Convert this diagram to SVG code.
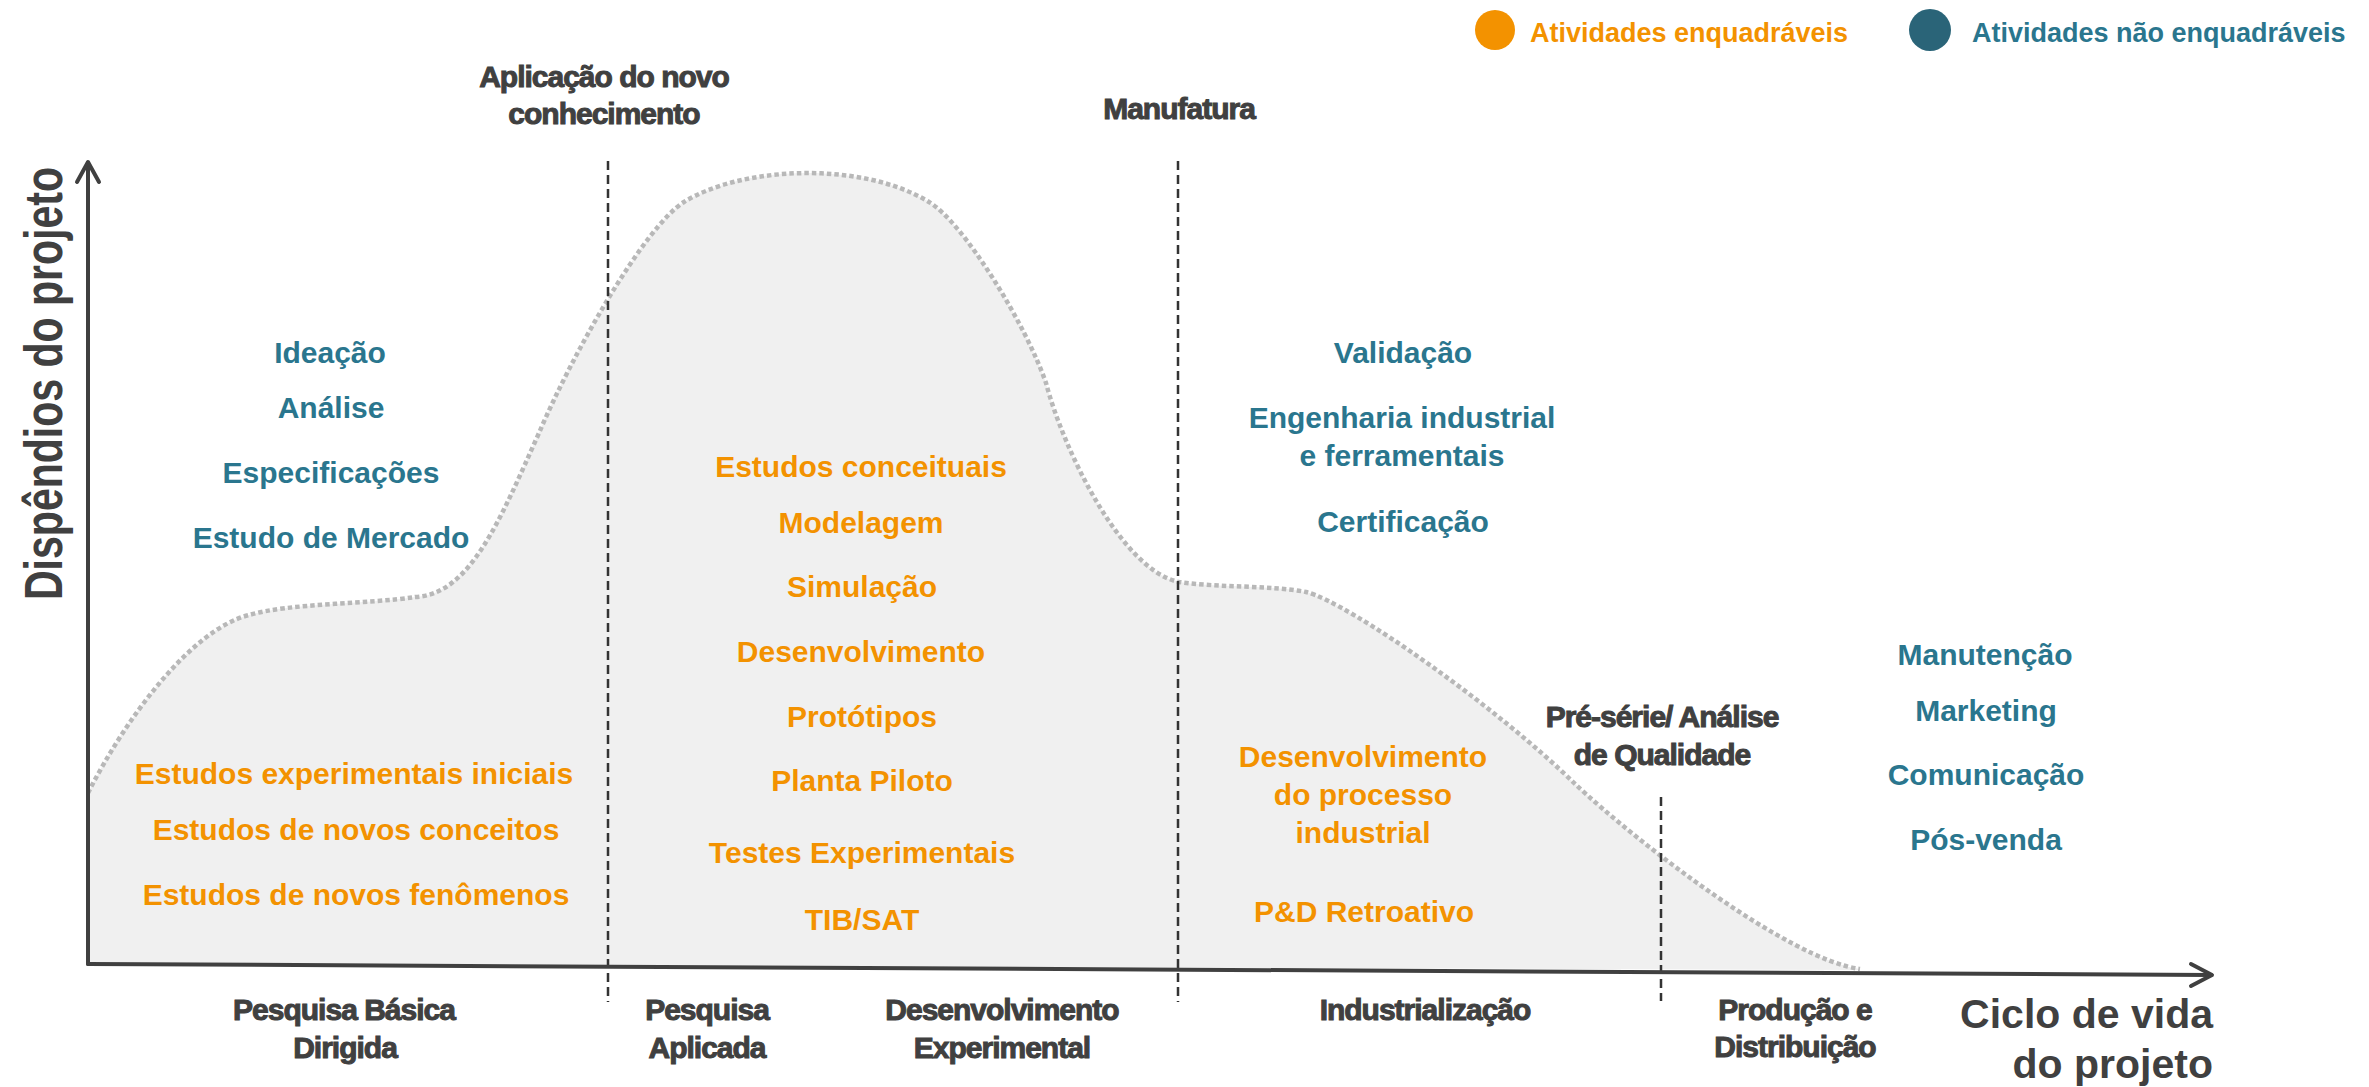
<svg xmlns="http://www.w3.org/2000/svg" width="2369" height="1087" viewBox="0 0 2369 1087">
<style>
.t{font-family:"Liberation Sans",Arial,sans-serif;font-weight:bold;text-anchor:middle}
.f30{font-size:30px}
.teal{fill:#2A768E}
.orange{fill:#F39200}
.dark{fill:#404040;stroke:#404040;stroke-width:1;letter-spacing:-1px}
.axis{fill:none;stroke:#404040;stroke-width:4;stroke-linecap:round;stroke-linejoin:round}
.dash{fill:none;stroke:#333333;stroke-width:2.5;stroke-dasharray:9 5}
</style>
<rect width="2369" height="1087" fill="#FFFFFF"/>
<g id="curve">
<path d="M88,793 C125,720 190,630 249,615 C290,603 370,604 415,597 C470,595 500,520 539,433 C572,355 644,227 684,202 C740,167 860,160 929,202 C964,223 1026,325 1046,383 C1062,445 1120,570 1179,582 C1220,588 1270,585 1306,592 C1350,603 1500,710 1574,783 C1640,845 1790,960 1860,969 L1860,970 L88,964 Z" fill="#F0F0F0"/>
<path d="M88,793 C125,720 190,630 249,615 C290,603 370,604 415,597 C470,595 500,520 539,433 C572,355 644,227 684,202 C740,167 860,160 929,202 C964,223 1026,325 1046,383 C1062,445 1120,570 1179,582 C1220,588 1270,585 1306,592 C1350,603 1500,710 1574,783 C1640,845 1790,960 1860,969" fill="none" stroke="#B8B8B8" stroke-width="4.5" stroke-dasharray="4.5 3"/>
</g>
<g id="connectors">
<line class="dash" x1="608" y1="161" x2="608" y2="1002"/>
<line class="dash" x1="1178" y1="161" x2="1178" y2="1002"/>
<line class="dash" x1="1661" y1="797" x2="1661" y2="1001"/>
<line class="axis" x1="88" y1="964" x2="88" y2="163"/>
<polyline class="axis" points="77,182 88,162 99,182"/>
<line class="axis" x1="88" y1="964" x2="2211" y2="975"/>
<polyline class="axis" points="2191,964 2212,975 2191,986"/>
</g>
<g id="legend">
<circle cx="1495" cy="30" r="20" fill="#F39200"/>
<text class="t orange" x="1530" y="42" style="font-size:27px;text-anchor:start">Atividades enquadráveis</text>
<circle cx="1930" cy="30" r="21" fill="#2A6478"/>
<text class="t teal" x="1972" y="42" style="font-size:27px;text-anchor:start">Atividades não enquadráveis</text>
</g>
<g id="y-axis-label">
<text class="t" transform="translate(62,600) rotate(-90)" style="font-size:53px;text-anchor:start;fill:#404040" textLength="433" lengthAdjust="spacingAndGlyphs">Dispêndios do projeto</text>
</g>
<g id="x-axis-label">
<text class="t" style="font-size:41px;text-anchor:end;fill:#404040" x="2213" y="1028">Ciclo de vida</text>
<text class="t" style="font-size:41px;text-anchor:end;fill:#404040" x="2213" y="1078">do projeto</text>
</g>
<g id="milestone-aplicacao">
<text class="t f30 dark" x="604" y="87">Aplicação do novo</text>
<text class="t f30 dark" x="604" y="124">conhecimento</text>
</g>
<g id="milestone-manufatura">
<text class="t f30 dark" x="1179" y="119">Manufatura</text>
</g>
<g id="milestone-preserie">
<text class="t f30 dark" x="1662" y="727">Pré-série/ Análise</text>
<text class="t f30 dark" x="1662" y="765">de Qualidade</text>
</g>
<g id="phase-basica">
<text class="t f30 dark" x="344" y="1020">Pesquisa Básica</text>
<text class="t f30 dark" x="345" y="1058">Dirigida</text>
</g>
<g id="phase-aplicada">
<text class="t f30 dark" x="707" y="1020">Pesquisa</text>
<text class="t f30 dark" x="707" y="1058">Aplicada</text>
</g>
<g id="phase-experimental">
<text class="t f30 dark" x="1002" y="1020">Desenvolvimento</text>
<text class="t f30 dark" x="1002" y="1058">Experimental</text>
</g>
<g id="phase-industrializacao">
<text class="t f30 dark" x="1425" y="1020">Industrialização</text>
</g>
<g id="phase-producao">
<text class="t f30 dark" x="1795" y="1020">Produção e</text>
<text class="t f30 dark" x="1795" y="1057">Distribuição</text>
</g>
<g id="nao-enquadraveis-1">
<text class="t f30 teal" x="330" y="363">Ideação</text>
<text class="t f30 teal" x="331" y="418">Análise</text>
<text class="t f30 teal" x="331" y="483">Especificações</text>
<text class="t f30 teal" x="331" y="548">Estudo de Mercado</text>
</g>
<g id="enquadraveis-1">
<text class="t f30 orange" x="354" y="784">Estudos experimentais iniciais</text>
<text class="t f30 orange" x="356" y="840">Estudos de novos conceitos</text>
<text class="t f30 orange" x="356" y="905">Estudos de novos fenômenos</text>
</g>
<g id="enquadraveis-2">
<text class="t f30 orange" x="861" y="477">Estudos conceituais</text>
<text class="t f30 orange" x="861" y="533">Modelagem</text>
<text class="t f30 orange" x="862" y="597">Simulação</text>
<text class="t f30 orange" x="861" y="662">Desenvolvimento</text>
<text class="t f30 orange" x="862" y="727">Protótipos</text>
<text class="t f30 orange" x="862" y="791">Planta Piloto</text>
<text class="t f30 orange" x="862" y="863">Testes Experimentais</text>
<text class="t f30 orange" x="862" y="930">TIB/SAT</text>
</g>
<g id="nao-enquadraveis-2">
<text class="t f30 teal" x="1403" y="363">Validação</text>
<text class="t f30 teal" x="1402" y="428">Engenharia industrial</text>
<text class="t f30 teal" x="1402" y="466">e ferramentais</text>
<text class="t f30 teal" x="1403" y="532">Certificação</text>
</g>
<g id="enquadraveis-3">
<text class="t f30 orange" x="1363" y="767">Desenvolvimento</text>
<text class="t f30 orange" x="1363" y="805">do processo</text>
<text class="t f30 orange" x="1363" y="843">industrial</text>
<text class="t f30 orange" x="1364" y="922">P&amp;D Retroativo</text>
</g>
<g id="nao-enquadraveis-3">
<text class="t f30 teal" x="1985" y="665">Manutenção</text>
<text class="t f30 teal" x="1986" y="721">Marketing</text>
<text class="t f30 teal" x="1986" y="785">Comunicação</text>
<text class="t f30 teal" x="1986" y="850">Pós-venda</text>
</g>
</svg>
